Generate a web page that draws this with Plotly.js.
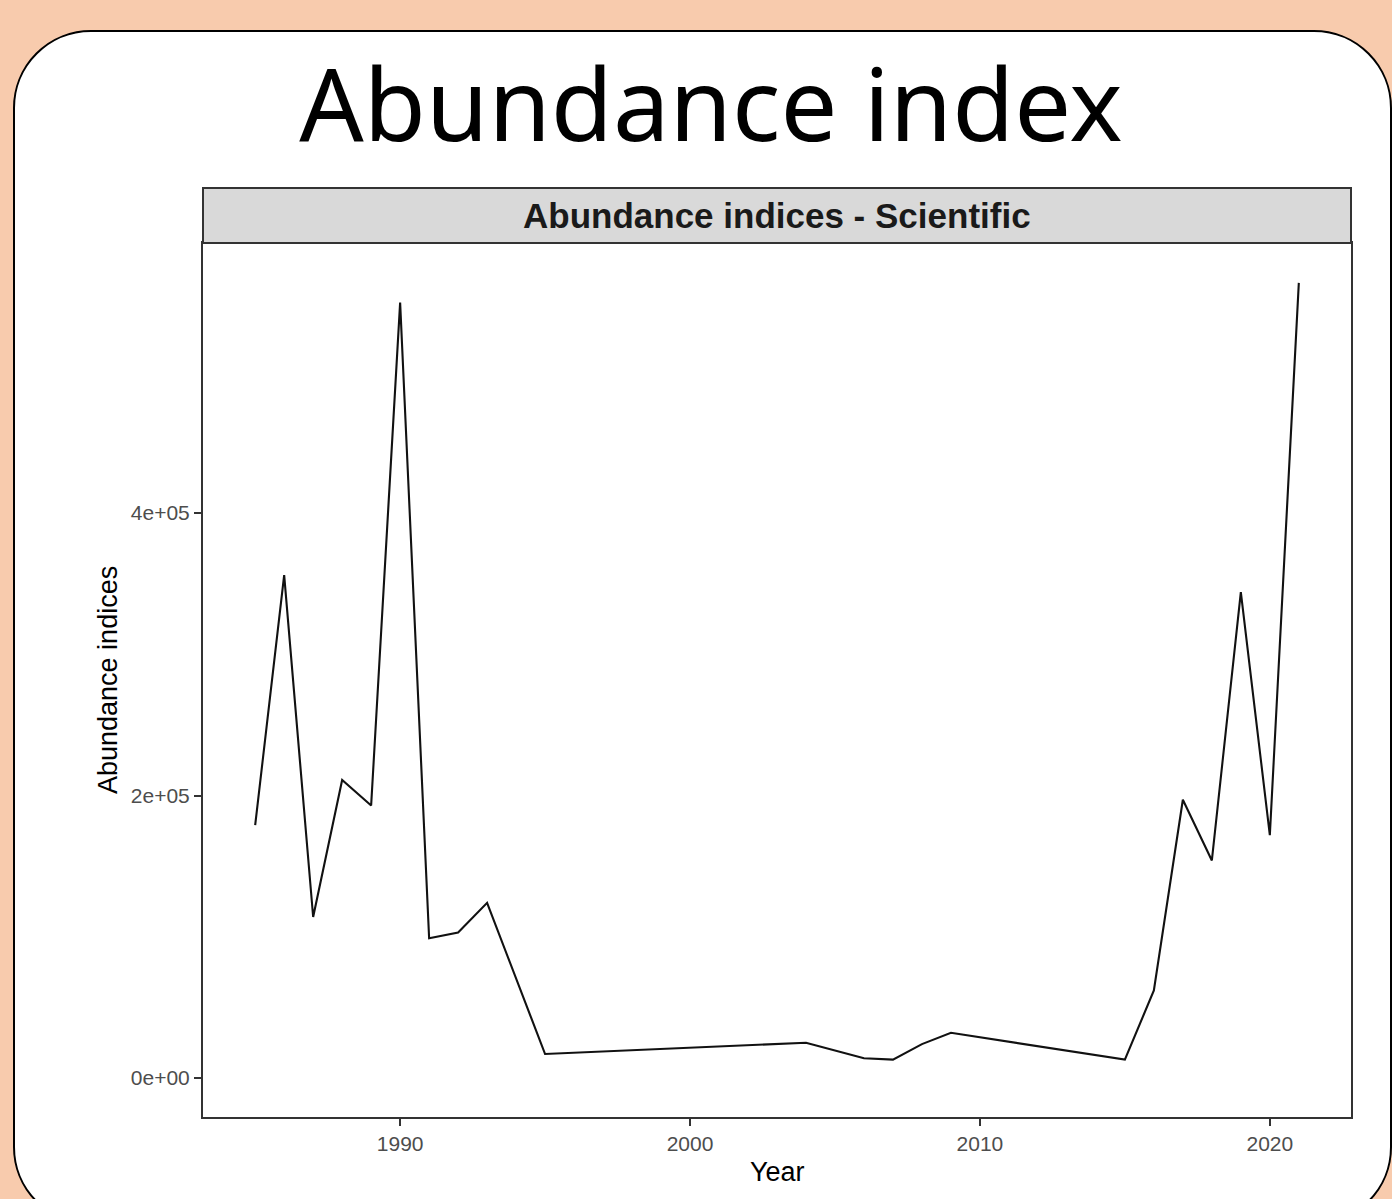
<!DOCTYPE html>
<html>
<head>
<meta charset="utf-8">
<script src="https://cdn.plot.ly/plotly-3.0.1.min.js"></script>
<style>
  html, body { margin: 0; padding: 0; width: 1392px; height: 1199px; overflow: hidden; background: #F8CBAD; }
  #card { position: absolute; left: 13px; top: 30px; width: 1379px; height: 1195px; box-sizing: border-box;
          border: 2.5px solid #000; border-radius: 78px; background: #fff; }
  #chart { position: absolute; left: 0; top: 0; width: 1392px; height: 1199px; }
</style>
</head>
<body>
<div id="card"></div>
<div id="chart"></div>
<script>
// Data
const years = [1985, 1986, 1987, 1988, 1989, 1990, 1991, 1992, 1993, 1995, 2004, 2006, 2007, 2008, 2009, 2015, 2016, 2017, 2018, 2019, 2020, 2021];
const abundance = [179000, 356000, 114000, 211000, 193000, 549000, 99000, 103000, 124000, 17000, 25000, 14000, 13000, 24000, 32000, 13000, 62000, 197000, 154000, 344000, 172000, 563000];

const xTickVals = [1990, 2000, 2010, 2020];
const xTickText = ['1990', '2000', '2010', '2020'];
const yTickVals = [0, 200000, 400000];
const yTickText = ['0e+00', '2e+05', '4e+05'];

const mainTitle = 'Abundance index';
const stripTitle = 'Abundance indices - Scientific';
const xTitle = 'Year';
const yTitle = 'Abundance indices';

const plotH = 874, plotW = 1148, stripH = 55;

const trace = {
  x: years, y: abundance, type: 'scatter', mode: 'lines',
  line: { color: '#111111', width: 2.1 }, hoverinfo: 'x+y', showlegend: false
};

const layout = {
  width: 1392, height: 1199,
  margin: { l: 203, r: 41, t: 243, b: 82 },
  paper_bgcolor: 'rgba(0,0,0,0)',
  plot_bgcolor: '#ffffff',
  font: { family: 'Liberation Sans, Arial, sans-serif' },
  title: {
    text: mainTitle,
    font: { family: 'Noto Sans, Open Sans, sans-serif', size: 101, color: '#000' },
    xref: 'container', x: 711 / 1392, xanchor: 'center',
    yref: 'container', y: (1199 - 106) / 1199, yanchor: 'middle'
  },
  xaxis: {
    range: [1983.2, 2022.8], tickmode: 'array', tickvals: xTickVals, ticktext: xTickText,
    showgrid: false, zeroline: false, showline: true, mirror: true, linecolor: '#333333', linewidth: 2,
    ticks: 'outside', ticklen: 7, tickwidth: 2, tickcolor: '#333333',
    tickfont: { size: 21, color: '#4D4D4D', family: 'Liberation Sans, Arial, sans-serif' }
  },
  yaxis: {
    range: [-27600, 591200], tickmode: 'array', tickvals: yTickVals, ticktext: yTickText,
    showgrid: false, zeroline: false, showline: true, mirror: true, linecolor: '#333333', linewidth: 2,
    ticks: 'outside', ticklen: 7, tickwidth: 2, tickcolor: '#333333',
    tickfont: { size: 21, color: '#4D4D4D', family: 'Liberation Sans, Arial, sans-serif' }
  },
  shapes: [{
    type: 'rect', xref: 'paper', yref: 'paper', x0: 0, x1: 1, y0: 1, y1: 1 + stripH / plotH,
    fillcolor: '#D9D9D9', line: { color: '#333333', width: 2 }, layer: 'above'
  }],
  annotations: [
    { text: '<b>' + stripTitle + '</b>', xref: 'paper', yref: 'paper', x: 0.5, y: 1 + (stripH / 2) / plotH,
      xanchor: 'center', yanchor: 'middle', showarrow: false,
      font: { size: 35, color: '#1A1A1A', family: 'Liberation Sans, Arial, sans-serif' } },
    { text: xTitle, xref: 'paper', yref: 'paper', x: 0.5, y: (1117 - 1172) / plotH,
      xanchor: 'center', yanchor: 'middle', showarrow: false,
      font: { size: 27, color: '#000', family: 'Liberation Sans, Arial, sans-serif' } },
    { text: yTitle, xref: 'paper', yref: 'paper', x: (108 - 203) / plotW, y: 0.5, textangle: -90,
      xanchor: 'center', yanchor: 'middle', showarrow: false,
      font: { size: 27, color: '#000', family: 'Liberation Sans, Arial, sans-serif' } }
  ]
};

Plotly.newPlot('chart', [trace], layout, { displayModeBar: false, staticPlot: true });
</script>
</body>
</html>
